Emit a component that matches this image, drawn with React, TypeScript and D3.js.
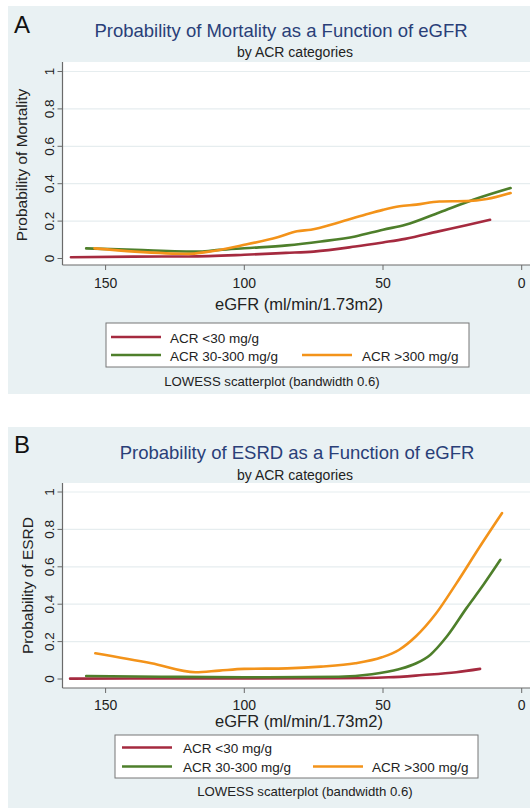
import React from "react";
import * as d3 from "d3";

// eGFR (ml/min/1.73m2) vs probability
type Pt = [number, number];

const xTicks = [150, 100, 50, 0];
const yTicks = [0, 0.2, 0.4, 0.6, 0.8, 1];
const yTickLabels = ["0", "0.2", "0.4", "0.6", "0.8", "1"];

const seriesNames = ["ACR <30 mg/g", "ACR 30-300 mg/g", "ACR >300 mg/g"];
const seriesColors = ["#a52a3f", "#4e7f2b", "#f3931a"];

const mortalityLow: Pt[] = [
  [162.5, 0.007], [140, 0.01], [120, 0.011], [100, 0.02], [85, 0.03],
  [75, 0.037], [60, 0.064], [50, 0.086], [42, 0.105], [30, 0.145], [20, 0.178], [11.4, 0.207],
];
const mortalityMid: Pt[] = [
  [157, 0.054], [139.5, 0.046], [116, 0.037], [109, 0.046], [100, 0.055],
  [84.6, 0.07], [72.4, 0.091], [60, 0.118], [50, 0.154], [41.9, 0.18],
  [29.7, 0.246], [17.5, 0.314], [4, 0.377],
];
const mortalityHigh: Pt[] = [
  [154, 0.054], [139.5, 0.037], [120, 0.025], [114, 0.034], [100, 0.073],
  [88, 0.114], [81, 0.146], [76, 0.154], [66, 0.193], [56.5, 0.234],
  [50, 0.26], [44, 0.279], [38, 0.288], [29.7, 0.305], [20, 0.307],
  [12.6, 0.318], [4, 0.35],
];

const esrdLow: Pt[] = [
  [162.8, 0.002], [120, 0.003], [66, 0.004], [48, 0.009], [35.8, 0.021],
  [23.6, 0.036], [15, 0.054],
];
const esrdMid: Pt[] = [
  [157, 0.016], [130, 0.012], [100, 0.009], [66, 0.012], [54, 0.025],
  [44.3, 0.052], [38, 0.084], [33, 0.129], [27, 0.227], [19.9, 0.379],
  [13.8, 0.504], [7.7, 0.6375],
];
const esrdHigh: Pt[] = [
  [153.7, 0.1375], [133.5, 0.084], [117.6, 0.036], [109, 0.045], [100, 0.054],
  [84.6, 0.057], [72.4, 0.066], [60, 0.084], [50.4, 0.116], [44.3, 0.155],
  [38.2, 0.227], [30.9, 0.35], [23.6, 0.51], [15, 0.71], [7.1, 0.887],
];

const FONT = "'Liberation Sans', Arial, Helvetica, sans-serif";
const BG = "#e9f1f3";
const GRID = "#e6edef";
const AXIS = "#6a6a6a";
const TITLE = "#2a3f78";

interface PanelLayout {
  bgTop: number;
  bgBottom: number;
  letterY: number;
  titleX: number;
  titleY: number;
  subX: number;
  subY: number;
  plotTop: number;
  axisY: number;
  y0: number;
  y1: number;
  yLabelX: number;
  xLabelY: number;
  xTitleY: number;
  box: { x0: number; x1: number; y0: number; y1: number };
  row1: number;
  row2: number;
  lineX: number;
  textX: number;
  orangeX: number;
  orangeTextX: number;
  noteX: number;
  noteY: number;
}

interface PanelProps {
  letter: string;
  title: string;
  yTitle: string;
  series: Pt[][];
  lay: PanelLayout;
}

const Panel = ({ letter, title, yTitle, series, lay }: PanelProps) => {
  const plotLeft = 62.5;
  const plotRight = 530;
  const x = d3.scaleLinear().domain([0, 150]).range([521.7, 105.6]);
  const y = d3.scaleLinear().domain([0, 1]).range([lay.y0, lay.y1]);
  const line = d3
    .line<Pt>()
    .x((d) => x(d[0]))
    .y((d) => y(d[1]))
    .curve(d3.curveMonotoneX);

  const legendRows = [
    { i: 0, lx: lay.lineX, tx: lay.textX, ly: lay.row1 },
    { i: 1, lx: lay.lineX, tx: lay.textX, ly: lay.row2 },
    { i: 2, lx: lay.orangeX, tx: lay.orangeTextX, ly: lay.row2 },
  ];

  return (
    <g fontFamily={FONT}>
      <rect x={8} y={lay.bgTop} width={522} height={lay.bgBottom - lay.bgTop} fill={BG} />
      <text x={14} y={lay.letterY} fontSize={24} fill="#111">
        {letter}
      </text>
      <text x={lay.titleX} y={lay.titleY} fontSize={18.5} fill={TITLE} textAnchor="middle">
        {title}
      </text>
      <text x={lay.subX} y={lay.subY} fontSize={14} fill="#222" textAnchor="middle">
        by ACR categories
      </text>

      <rect
        x={plotLeft}
        y={lay.plotTop}
        width={plotRight - plotLeft}
        height={lay.axisY - lay.plotTop}
        fill="#fff"
      />
      {yTicks.slice(1).map((t) => (
        <line key={t} x1={plotLeft} x2={plotRight} y1={y(t)} y2={y(t)} stroke={GRID} strokeWidth={1.2} />
      ))}

      {series.map((s, i) => (
        <path
          key={i}
          d={line([...s].sort((a, b) => b[0] - a[0])) || ""}
          fill="none"
          stroke={seriesColors[i]}
          strokeWidth={2.6}
          strokeLinejoin="round"
          strokeLinecap="round"
        />
      ))}

      {/* y axis */}
      <line x1={plotLeft} x2={plotLeft} y1={lay.plotTop} y2={lay.axisY} stroke={AXIS} strokeWidth={1.2} />
      {yTicks.map((t, i) => (
        <g key={t}>
          <line x1={plotLeft - 5} x2={plotLeft} y1={y(t)} y2={y(t)} stroke={AXIS} strokeWidth={1} />
          <text
            transform={`translate(53.5,${y(t)}) rotate(-90)`}
            fontSize={13.5}
            fill="#222"
            textAnchor="middle"
          >
            {yTickLabels[i]}
          </text>
        </g>
      ))}
      <text
        transform={`translate(${lay.yLabelX},${(lay.y0 + lay.y1) / 2}) rotate(-90)`}
        fontSize={15.5}
        fill="#222"
        textAnchor="middle"
      >
        {yTitle}
      </text>

      {/* x axis */}
      <line x1={plotLeft} x2={plotRight} y1={lay.axisY} y2={lay.axisY} stroke={AXIS} strokeWidth={1.2} />
      {xTicks.map((t) => (
        <g key={t}>
          <line x1={x(t)} x2={x(t)} y1={lay.axisY} y2={lay.axisY + 5} stroke={AXIS} strokeWidth={1} />
          <text x={x(t)} y={lay.xLabelY} fontSize={14} fill="#222" textAnchor="middle">
            {t}
          </text>
        </g>
      ))}
      <text x={299} y={lay.xTitleY} fontSize={16.5} fill="#222" textAnchor="middle">
        eGFR (ml/min/1.73m2)
      </text>

      {/* legend */}
      <rect
        x={lay.box.x0}
        y={lay.box.y0}
        width={lay.box.x1 - lay.box.x0}
        height={lay.box.y1 - lay.box.y0}
        fill="#fff"
        stroke="#777"
        strokeWidth={1}
      />
      {legendRows.map((r) => (
        <g key={r.i}>
          <line
            x1={r.lx}
            x2={r.lx + 50}
            y1={r.ly}
            y2={r.ly}
            stroke={seriesColors[r.i]}
            strokeWidth={2.6}
          />
          <text x={r.tx} y={r.ly + 5.5} fontSize={13.5} fill="#222">
            {seriesNames[r.i]}
          </text>
        </g>
      ))}
      <text x={lay.noteX} y={lay.noteY} fontSize={13.2} fill="#222" textAnchor="middle">
        LOWESS scatterplot (bandwidth 0.6)
      </text>
    </g>
  );
};

const layoutA: PanelLayout = {
  bgTop: 6,
  bgBottom: 394,
  letterY: 33,
  titleX: 281,
  titleY: 37,
  subX: 295,
  subY: 57,
  plotTop: 62,
  axisY: 265,
  y0: 258.5,
  y1: 71.5,
  yLabelX: 26.5,
  xLabelY: 288,
  xTitleY: 310,
  box: { x0: 106, x1: 469, y0: 323, y1: 367 },
  row1: 337,
  row2: 355,
  lineX: 111,
  textX: 170,
  orangeX: 302,
  orangeTextX: 362,
  noteX: 272,
  noteY: 386,
};

const layoutB: PanelLayout = {
  bgTop: 427,
  bgBottom: 808,
  letterY: 453,
  titleX: 297,
  titleY: 459,
  subX: 295,
  subY: 480,
  plotTop: 483,
  axisY: 688,
  y0: 679,
  y1: 492,
  yLabelX: 32.5,
  xLabelY: 710,
  xTitleY: 727,
  box: { x0: 115, x1: 478, y0: 735, y1: 778 },
  row1: 747.5,
  row2: 766.5,
  lineX: 122,
  textX: 183,
  orangeX: 313,
  orangeTextX: 372,
  noteX: 305,
  noteY: 796,
};

export default function App() {
  return (
    <svg
      width={530}
      height={810}
      style={{ position: "absolute", left: 0, top: 0, background: "#fff" }}
    >
      <Panel
        letter="A"
        title="Probability of Mortality as a Function of eGFR"
        yTitle="Probability of Mortality"
        series={[mortalityLow, mortalityMid, mortalityHigh]}
        lay={layoutA}
      />
      <Panel
        letter="B"
        title="Probability of ESRD as a Function of eGFR"
        yTitle="Probability of ESRD"
        series={[esrdLow, esrdMid, esrdHigh]}
        lay={layoutB}
      />
    </svg>
  );
}
